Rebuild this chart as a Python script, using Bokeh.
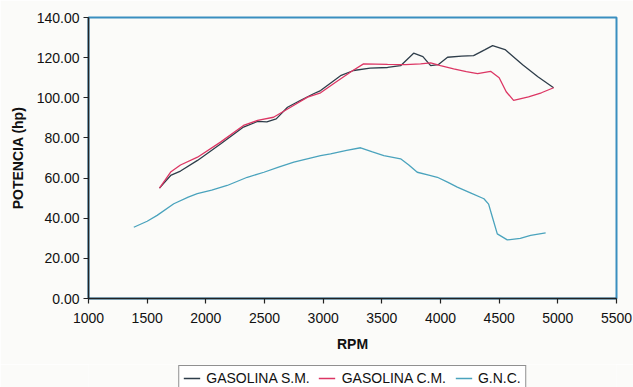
from bokeh.plotting import figure
from bokeh.layouts import column
from bokeh.models import Legend, LegendItem, Range1d, NumeralTickFormatter, FixedTicker
from bokeh.embed import file_html
from bokeh.resources import INLINE

# GASOLINA S.M.
sm_rpm = [1605, 1700, 1784, 1929, 2125, 2321, 2441, 2520, 2600, 2696, 2800, 2918, 2978, 3148, 3259, 3400, 3549, 3660, 3771, 3850, 3916, 3980, 4060, 4180, 4282, 4380, 4444, 4550, 4700, 4830, 4964]
sm_hp  = [55.0, 61.3, 63.5, 68.8, 77.0, 85.4, 88.2, 88.0, 89.5, 95.3, 98.5, 102.0, 103.6, 111.0, 113.6, 114.8, 115.1, 116.0, 122.2, 120.5, 116.0, 116.5, 120.2, 120.8, 121.0, 124.0, 126.0, 124.0, 116.5, 110.5, 105.0]

# GASOLINA C.M.
cm_rpm = [1605, 1700, 1784, 1929, 2125, 2321, 2441, 2577, 2722, 2867, 2978, 3100, 3250, 3344, 3549, 3700, 3830, 3916, 4000, 4112, 4220, 4316, 4427, 4500, 4560, 4623, 4750, 4860, 4964]
cm_hp  = [55.0, 63.0, 66.5, 70.4, 77.9, 86.2, 88.7, 90.3, 95.3, 100.3, 102.5, 107.5, 113.5, 116.9, 116.6, 116.5, 116.9, 117.4, 116.0, 114.4, 113.0, 112.0, 113.2, 110.0, 103.0, 98.7, 100.5, 102.5, 105.0]

# G.N.C.
gnc_rpm = [1386, 1500, 1585, 1727, 1850, 1927, 2050, 2182, 2353, 2495, 2620, 2750, 2978, 3063, 3200, 3319, 3420, 3517, 3660, 3730, 3802, 3900, 3973, 4060, 4143, 4260, 4370, 4410, 4440, 4484, 4569, 4680, 4768, 4896]
gnc_hp  = [35.5, 38.5, 41.4, 47.2, 50.5, 52.2, 54.0, 56.3, 60.4, 62.9, 65.5, 67.9, 71.2, 72.1, 73.8, 75.1, 73.0, 71.2, 69.6, 66.5, 62.9, 61.5, 60.4, 58.0, 55.5, 52.5, 49.7, 47.0, 41.0, 32.2, 29.2, 30.0, 31.4, 32.7]

x_ticks = [1000, 1500, 2000, 2500, 3000, 3500, 4000, 4500, 5000, 5500]
y_ticks = [0, 20, 40, 60, 80, 100, 120, 140]

series_names = ["GASOLINA S.M.", "GASOLINA C.M.", "G.N.C."]
colors = ["#2e3d4a", "#dc3664", "#4aa3bd"]
series = [(sm_rpm, sm_hp), (cm_rpm, cm_hp), (gnc_rpm, gnc_hp)]

FONT = "Liberation Sans"
BG = "#fbfbf9"

p = figure(width=633, height=364, output_backend="svg", toolbar_location=None,
           x_range=Range1d(1000, 5500), y_range=Range1d(0, 140),
           min_border_left=88, min_border_right=17, min_border_top=17, min_border_bottom=66)

p.background_fill_color = BG
p.border_fill_color = BG
p.outline_line_color = "#3a8fc0"
p.outline_line_width = 2
p.xgrid.grid_line_color = None
p.ygrid.grid_line_color = None

for (xs, ys), c in zip(series, colors):
    p.line(xs, ys, line_color=c, line_width=1.3)

for ax in (p.xaxis[0], p.yaxis[0]):
    ax.axis_line_color = "#222222"
    ax.axis_line_width = 1.5
    ax.major_tick_line_color = "#222222"
    ax.major_tick_line_width = 1.2
    ax.major_tick_out = 5
    ax.major_tick_in = 0
    ax.minor_tick_line_color = None
    ax.major_label_text_font = FONT
    ax.major_label_text_font_size = "14px"
    ax.major_label_text_color = "#111111"
    ax.axis_label_text_font = FONT
    ax.axis_label_text_font_style = "bold"
    ax.axis_label_text_font_size = "14px"
    ax.axis_label_text_color = "#111111"

p.xaxis.ticker = FixedTicker(ticks=x_ticks)
p.yaxis.ticker = FixedTicker(ticks=y_ticks)
p.yaxis.formatter = NumeralTickFormatter(format="0.00")
p.xaxis.axis_label = "RPM"
p.yaxis.axis_label = "POTENCIA (hp)"
p.xaxis.major_label_standoff = 9
p.xaxis.axis_label_standoff = 10
p.yaxis.major_label_standoff = 4
p.yaxis.axis_label_standoff = 8

# legend strip below the chart (its lines lie outside this strip's ranges, so only the legend shows)
lf = figure(width=633, height=23, output_backend="svg", toolbar_location=None,
            x_range=Range1d(0, 1), y_range=Range1d(0, 1),
            min_border_left=88, min_border_right=17, min_border_top=0, min_border_bottom=0)
lf.axis.visible = False
lf.grid.visible = False
lf.outline_line_color = None
lf.background_fill_color = BG
lf.border_fill_color = BG
lr = [lf.line(xs, ys, line_color=c, line_width=1.3) for (xs, ys), c in zip(series, colors)]

legend = Legend(items=[LegendItem(label=n, renderers=[r]) for n, r in zip(series_names, lr)],
                orientation="horizontal", location="top_center")
legend.label_text_font = FONT
legend.label_text_font_size = "14px"
legend.label_text_color = "#111111"
legend.border_line_color = "#222222"
legend.border_line_width = 1
legend.background_fill_color = "#ffffff"
legend.background_fill_alpha = 1.0
legend.glyph_width = 17
legend.glyph_height = 12
legend.label_standoff = 6
legend.spacing = 9
legend.padding = 4
legend.margin = 1
lf.add_layout(legend, "center")

layout = column(p, lf, spacing=0)
open("out.html", "w").write(file_html(layout, INLINE))
